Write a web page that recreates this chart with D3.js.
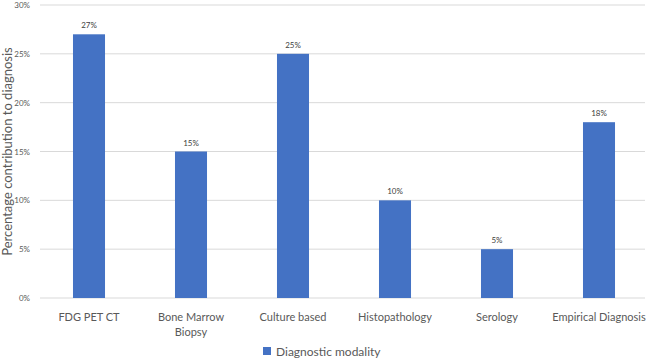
<!DOCTYPE html>
<html><head><meta charset="utf-8">
<script src="https://cdn.jsdelivr.net/npm/d3@7"></script>
<style>body{margin:0;background:#fff;} text{font-family:Lato,"Open Sans",sans-serif;}</style>
</head><body>
<svg id="c" width="650" height="361"></svg>
<script>
const categories = ["FDG PET CT", "Bone Marrow|Biopsy", "Culture based", "Histopathology", "Serology", "Empirical Diagnosis"];
const values = [27, 15, 25, 10, 5, 18];
const yTicks = [0, 5, 10, 15, 20, 25, 30];
const seriesName = "Diagnostic modality";
const yTitle = "Percentage contribution to diagnosis";

const svg = d3.select("#c");
const m = {l: 40, r: 5, t: 5, b: 63};
const W = 650, H = 361;
const x = d3.scaleBand().domain(categories).range([38, 650]).paddingInner(0.686).paddingOuter(0.343);
const y = d3.scaleLinear().domain([0, 30]).range([H - m.b, m.t]);
const gray = "#595959";

const grid = svg.append("g");
grid.selectAll("line").data(yTicks).join("line")
  .attr("x1", m.l).attr("x2", W - m.r)
  .attr("y1", d => y(d)).attr("y2", d => y(d))
  .attr("stroke", "#d9d9d9").attr("stroke-width", 1);

const yAxis = svg.append("g").attr("transform", `translate(${m.l},0)`)
  .call(d3.axisLeft(y).tickValues(yTicks).tickFormat(d => d + "%").tickSize(0).tickPadding(10));
yAxis.select(".domain").remove();
yAxis.selectAll("text").attr("fill", gray).style("font-size", "8px");

svg.append("g").selectAll("rect").data(values).join("rect")
  .attr("x", (d, i) => x(categories[i])).attr("width", x.bandwidth())
  .attr("y", d => y(d)).attr("height", d => y(0) - y(d))
  .attr("fill", "#4472C4");

svg.append("g").selectAll("text").data(values).join("text")
  .attr("x", (d, i) => x(categories[i]) + x.bandwidth() / 2)
  .attr("y", d => y(d) - 6)
  .attr("text-anchor", "middle").attr("fill", "#404040").style("font-size", "8px")
  .text(d => d + "%");

const xl = svg.append("g");
categories.forEach(c => {
  const lines = c.split("|");
  const t = xl.append("text").attr("x", x(c) + x.bandwidth() / 2).attr("y", y(0) + 23)
    .attr("text-anchor", "middle").attr("fill", gray).style("font-size", "11px");
  lines.forEach((ln, i) => t.append("tspan").attr("x", x(c) + x.bandwidth() / 2).attr("dy", i ? 15 : 0).text(ln));
});

svg.append("text").attr("transform", `translate(12,${(y(0) + y(30)) / 2}) rotate(-90)`)
  .attr("text-anchor", "middle").attr("fill", gray).style("font-size", "13px").text(yTitle);

const lg = svg.append("g");
lg.append("rect").attr("x", 263).attr("y", 347).attr("width", 8).attr("height", 8).attr("fill", "#4472C4");
lg.append("text").attr("x", 276).attr("y", 356).attr("fill", gray).style("font-size", "12px").text(seriesName);
</script>
</body></html>
